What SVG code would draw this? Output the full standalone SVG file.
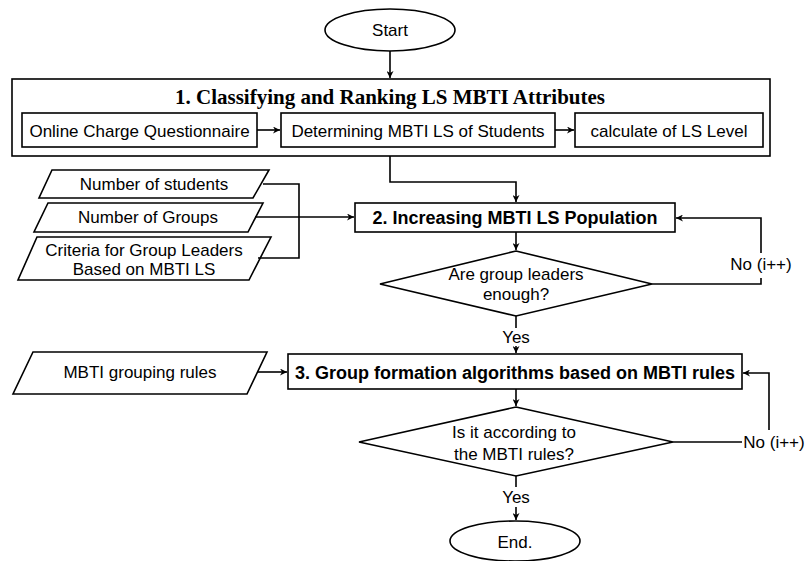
<svg xmlns="http://www.w3.org/2000/svg" width="806" height="561" viewBox="0 0 806 561">
<style>
.s{fill:#fff;stroke:#000;stroke-width:1.6}
.c{fill:none;stroke:#000;stroke-width:1.6}
.t{font-family:"Liberation Sans",Arial,sans-serif;font-size:17px;fill:#000;text-anchor:middle}
.b{font-weight:bold;font-size:18px}
.h{font-family:"Liberation Serif","Times New Roman",serif;font-size:21px;font-weight:bold;fill:#000;text-anchor:middle}
</style>
<defs>
<marker id="a" viewBox="0 0 10 10" refX="10" refY="5" markerWidth="7" markerHeight="7" markerUnits="userSpaceOnUse" orient="auto">
<path d="M0,0 L10,5 L0,10 L3,5 Z" fill="#000"/>
</marker>
</defs>
<rect width="806" height="561" fill="#fff"/>
<g id="start">
<ellipse class="s" cx="390" cy="30" rx="65" ry="21"/>
<text class="t" x="390" y="36">Start</text>
</g>
<g id="step1">
<rect class="s" x="12" y="79" width="758" height="77"/>
<text class="h" x="390" y="104">1. Classifying and Ranking LS MBTI Attributes</text>
</g>
<g id="questionnaire">
<rect class="s" x="22" y="113" width="235" height="34"/>
<text class="t" x="139.5" y="137">Online Charge Questionnaire</text>
</g>
<g id="determining">
<rect class="s" x="281" y="113" width="274" height="34"/>
<text class="t" x="418" y="137">Determining MBTI LS of Students</text>
</g>
<g id="calculate">
<rect class="s" x="575" y="113" width="188" height="34"/>
<text class="t" x="669" y="137">calculate of LS Level</text>
</g>
<g id="in-students">
<polygon class="s" points="52,170 269,170 253,198 39,198"/>
<text class="t" x="154" y="190">Number of students</text>
</g>
<g id="in-groups">
<polygon class="s" points="48,203 263,203 248,232 34,232"/>
<text class="t" x="148" y="223">Number of Groups</text>
</g>
<g id="in-criteria">
<polygon class="s" points="37,237 271,237 249,280 18,280"/>
<text class="t" x="144" y="256">Criteria for Group Leaders</text>
<text class="t" x="144" y="275">Based on MBTI LS</text>
</g>
<g id="step2">
<rect class="s" x="355" y="203" width="320" height="29"/>
<text class="t b" x="515" y="224">2. Increasing MBTI LS Population</text>
</g>
<g id="decision1">
<polygon class="s" points="516,251 652,284 516,316 380,284"/>
<text class="t" x="516" y="280">Are group leaders</text>
<text class="t" x="516" y="300">enough?</text>
</g>
<g id="label-no1"><text class="t" x="761" y="270">No (i++)</text></g>
<g id="label-yes1"><text class="t" x="516" y="343">Yes</text></g>
<g id="in-rules">
<polygon class="s" points="33,352 267,352 247,394 13,394"/>
<text class="t" x="140" y="378">MBTI grouping rules</text>
</g>
<g id="step3">
<rect class="s" x="288" y="354" width="454" height="35"/>
<text class="t b" x="515" y="379">3. Group formation algorithms based on MBTI rules</text>
</g>
<g id="decision2">
<polygon class="s" points="516,407 673,442 516,476 359,442"/>
<text class="t" x="514" y="438">Is it according to</text>
<text class="t" x="514" y="460">the MBTI rules?</text>
</g>
<g id="label-no2"><text class="t" x="774" y="448">No (i++)</text></g>
<g id="label-yes2"><text class="t" x="516" y="503">Yes</text></g>
<g id="end">
<ellipse class="s" cx="515" cy="541" rx="65" ry="20"/>
<text class="t" x="515" y="548">End.</text>
</g>
<g id="connectors">
<line class="c" x1="390" y1="51" x2="390" y2="78" marker-end="url(#a)"/>
<line class="c" x1="257" y1="130" x2="280" y2="130" marker-end="url(#a)"/>
<line class="c" x1="555" y1="130" x2="574" y2="130" marker-end="url(#a)"/>
<polyline class="c" points="390,156 390,182 516,182 516,202" marker-end="url(#a)"/>
<polyline class="c" points="263,184 299,184 299,258 258,258"/>
<line class="c" x1="255" y1="217" x2="354" y2="217" marker-end="url(#a)"/>
<line class="c" x1="516" y1="232" x2="516" y2="250" marker-end="url(#a)"/>
<polyline class="c" points="652,284 761,284 761,278"/>
<polyline class="c" points="761,253 761,218 676,218" marker-end="url(#a)"/>
<line class="c" x1="516" y1="316" x2="516" y2="328"/>
<line class="c" x1="516" y1="346" x2="516" y2="353" marker-end="url(#a)"/>
<line class="c" x1="257" y1="372" x2="287" y2="372" marker-end="url(#a)"/>
<line class="c" x1="516" y1="389" x2="516" y2="406" marker-end="url(#a)"/>
<line class="c" x1="673" y1="442" x2="742" y2="442"/>
<polyline class="c" points="769,430 769,373 743,373" marker-end="url(#a)"/>
<line class="c" x1="516" y1="476" x2="516" y2="487"/>
<line class="c" x1="516" y1="507" x2="516" y2="520" marker-end="url(#a)"/>
</g>
</svg>
